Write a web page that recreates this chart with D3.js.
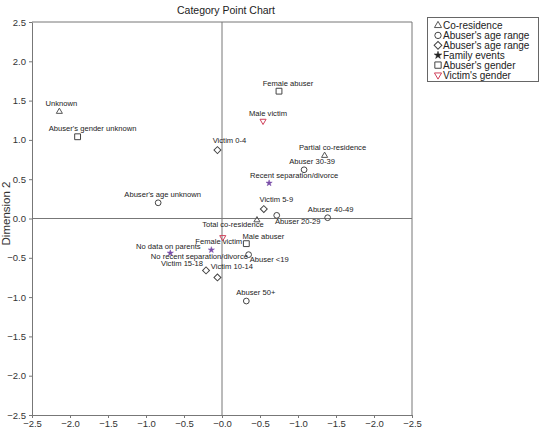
<!DOCTYPE html>
<html>
<head>
<meta charset="utf-8">
<script src="https://cdn.jsdelivr.net/npm/d3@7"></script>
<style>
  body { margin: 0; background: #fff; }
  svg { display: block; font-family: "Liberation Sans", Arial, sans-serif; }
</style>
</head>
<body>
<svg id="chart" width="540" height="429"></svg>
<script>
// category points (dimension 1, dimension 2)
const pointNames = ["Unknown", "Abuser's gender unknown", "Victim 0-4", "Abuser's age unknown",
  "Female abuser", "Male victim", "Partial co-residence", "Abuser 30-39",
  "Recent separation/divorce", "Victim 5-9", "Abuser 20-29", "Abuser 40-49",
  "Total co-residence", "Female victim", "Male abuser", "No recent separation/divorce",
  "No data on parents", "Abuser <19", "Victim 15-18", "Victim 10-14", "Abuser 50+"]
const dim1 = [-2.14, -1.90, -0.06, -0.84, 0.75, 0.54, 1.35, 1.08, 0.62, 0.55, 0.72, 1.39,
  0.46, 0.01, 0.32, -0.14, -0.68, 0.35, -0.21, -0.06, 0.32]
const dim2 = [1.36, 1.04, 0.87, 0.20, 1.62, 1.24, 0.80, 0.62, 0.45, 0.12, 0.04, 0.01,
  -0.02, -0.24, -0.32, -0.40, -0.44, -0.46, -0.66, -0.75, -1.05]
const pointGroup = [0, 4, 2, 1, 4, 5, 0, 1, 3, 2, 1, 1, 0, 5, 4, 3, 3, 1, 2, 2, 1]
const groupNames = ["Co-residence", "Abuser's age range", "Abuser's age range",
  "Family events", "Abuser's gender", "Victim's gender"]
const yTicks = [-2.5, -2.0, -1.5, -1.0, -0.5, 0.0, 0.5, 1.0, 1.5, 2.0, 2.5]
const xTickLabels = ["\u22122.5", "\u22122.0", "\u22121.5", "\u22121.0", "\u22120.5", "\u22120.0",
  "\u22120.5", "\u22121.0", "\u22121.5", "\u22122.0", "\u22122.5"]

// where each label sits relative to its marker (centre x, baseline y)
const labelShift = [[2,-6],[15,-6],[12,-7],[4.5,-6],[9,-5.5],[5,-5],[8,-6],[8,-6],[25,-5],
  [12.5,-7],[21,9],[3,-6],[-24,7],[-4,7],[17,-5],[-12,8.6],[-2,-4],[20.6,7.7],[-24,-4],
  [14.4,-8],[9.5,-5.7]]

// marker look per group: triangle, circle, diamond, star, square, down-triangle
const symbolOf = [d3.symbolTriangle, d3.symbolCircle, d3.symbolSquare, d3.symbolStar, d3.symbolSquare, d3.symbolTriangle]
const sizeOf = [16, 26, 24, 12, 34, 16]
const turnOf = [0, 0, 45, 0, 0, 180]
const strokeOf = ["#555", "#444", "#444", "#7a4fa8", "#444", "#d0405a"]

const svg = d3.select("#chart")
const margin = { left: 32, right: 128, top: 22, bottom: 14 }
const width = 540, height = 429

const x = d3.scaleLinear().domain([-2.5, 2.5]).range([margin.left, width - margin.right])
const y = d3.scaleLinear().domain([-2.5, 2.5]).range([height - margin.bottom, margin.top])

// title
svg.append("text")
  .attr("x", 226).attr("y", 14)
  .attr("text-anchor", "middle")
  .attr("font-size", "10.5px").attr("fill", "#222")
  .text("Category Point Chart")

// frame (top + right)
svg.append("path")
  .attr("d", `M${x(-2.5)},${y(2.5)}H${x(2.5)}V${y(-2.5)}`)
  .attr("fill", "none").attr("stroke", "#777")

// reference lines through the origin
svg.append("line")
  .attr("x1", x(0)).attr("x2", x(0)).attr("y1", y(2.5)).attr("y2", y(-2.5))
  .attr("stroke", "#777")
svg.append("line")
  .attr("x1", x(-2.5)).attr("x2", x(2.5)).attr("y1", y(0)).attr("y2", y(0))
  .attr("stroke", "#777")

// axes
function yAxis(g) {
  g.attr("transform", `translate(${margin.left},0)`)
    .call(d3.axisLeft(y).tickValues(yTicks).tickSize(3).tickSizeOuter(0).tickFormat(d3.format(".1f")))
    .attr("font-size", "9.5px")
  g.selectAll("path, line").attr("stroke", "#777")
  g.selectAll("text").attr("fill", "#333")
}
svg.append("g").call(yAxis)

function xAxis(g) {
  g.attr("transform", `translate(0,${height - margin.bottom})`)
    .call(d3.axisBottom(x).tickValues(yTicks).tickSize(3).tickSizeOuter(0).tickFormat((d, i) => xTickLabels[i]))
    .attr("font-size", "9.5px")
  g.selectAll("path, line").attr("stroke", "#777")
  g.selectAll("text").attr("fill", "#333").attr("dy", "0.6em")
}
svg.append("g").call(xAxis)

// y axis title, hugging the left edge
svg.append("text")
  .attr("transform", `translate(10,${y(0) - 5}) rotate(-90)`)
  .attr("text-anchor", "middle")
  .attr("font-size", "11.5px").attr("fill", "#333")
  .text("Dimension 2")

function marker(g, grp) {
  return d3.symbol(symbolOf[grp], sizeOf[grp])()
}

// markers
const idx = d3.range(pointNames.length)
svg.append("g").selectAll("path")
  .data(idx)
  .join("path")
  .attr("d", i => marker(null, pointGroup[i]))
  .attr("transform", i => `translate(${x(dim1[i])},${y(dim2[i])}) rotate(${turnOf[pointGroup[i]]})`)
  .attr("fill", i => pointGroup[i] === 3 ? strokeOf[3] : "none")
  .attr("stroke", i => strokeOf[pointGroup[i]])
  .attr("stroke-width", i => pointGroup[i] === 3 ? 0.5 : 1)

// point labels
svg.append("g").selectAll("text")
  .data(idx)
  .join("text")
  .attr("x", i => x(dim1[i]) + labelShift[i][0])
  .attr("y", i => y(dim2[i]) + labelShift[i][1])
  .attr("text-anchor", "middle")
  .attr("font-size", "7.6px").attr("fill", "#222")
  .text(i => pointNames[i])

// legend
const legend = svg.append("g")
legend.append("rect")
  .attr("x", 427.5).attr("y", 17.5).attr("width", 111).attr("height", 64)
  .attr("fill", "#fff").attr("stroke", "#666")
const rows = legend.selectAll("g.row")
  .data(groupNames)
  .join("g")
  .attr("class", "row")
  .attr("transform", (d, i) => `translate(438,${25.5 + i * 9.9})`)
rows.append("path")
  .attr("d", (d, i) => d3.symbol(symbolOf[i], sizeOf[i] + 6)())
  .attr("transform", (d, i) => `rotate(${turnOf[i]})`)
  .attr("fill", (d, i) => i === 3 ? "#222" : "none")
  .attr("stroke", (d, i) => i === 3 ? "#222" : strokeOf[i])
  .attr("stroke-width", (d, i) => i === 3 ? 0.5 : 1)
rows.append("text")
  .attr("x", 5).attr("dy", "0.36em")
  .attr("font-size", "10px").attr("fill", "#222")
  .text(d => d)
</script>
</body>
</html>
